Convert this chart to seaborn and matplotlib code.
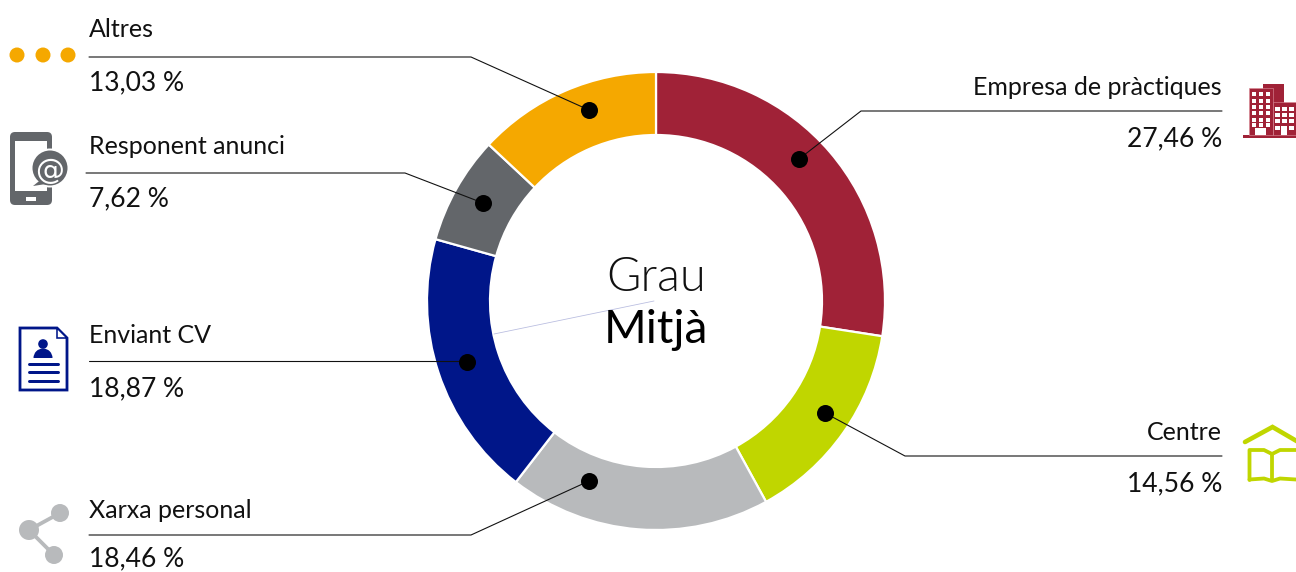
import matplotlib
matplotlib.use("Agg")
import matplotlib.pyplot as plt
from matplotlib.patches import Circle, FancyBboxPatch, Polygon, Rectangle, Wedge
import seaborn as sns
import pandas as pd

categories = ["Empresa de pràctiques", "Centre", "Xarxa personal", "Enviant CV", "Responent anunci", "Altres"]
values = [27.46, 14.56, 18.46, 18.87, 7.62, 13.03]
value_labels = ["27,46 %", "14,56 %", "18,46 %", "18,87 %", "7,62 %", "13,03 %"]
colors = ["#a02237", "#c0d600", "#b8babc", "#001689", "#63666a", "#f5a800"]

sns.set_theme(style="white")
plt.rcParams["font.family"] = ["Lato", "DejaVu Sans"]

W, H = 1296, 572
fig = plt.figure(figsize=(W / 100, H / 100), dpi=100, facecolor="white")
ax = fig.add_axes([0, 0, 1, 1])
px = 0.72  # one pixel in points

# Donut, in a pixel-sized data space
ax.pie(values, colors=colors, center=(656, 301), radius=229, startangle=-90, counterclock=True,
       wedgeprops=dict(width=63, edgecolor="white", linewidth=1.6))
ax.set_xlim(0, W)
ax.set_ylim(H, 0)
ax.set_aspect("auto")
ax.axis("off")

# Leader lines and anchors
elbows = {
    "Altres": ([89, 471], 57), "Responent anunci": ([86, 405], 173), "Enviant CV": ([89, 467], 361),
    "Xarxa personal": ([89, 471], 535), "Empresa de pràctiques": ([1222, 861], 111), "Centre": ([1222, 905], 456),
}
anchors = pd.DataFrame({
    "name": categories,
    "x": [799, 825, 589, 467, 483, 589],
    "y": [159, 413, 481, 362, 203, 110],
})
for row in anchors.itertuples():
    xs, yy = elbows[row.name]
    ax.plot([xs[0], xs[1], row.x], [yy, yy, row.y], color="#111111", lw=1.1 * px, zorder=3,
            solid_joinstyle="miter")
sns.scatterplot(data=anchors, x="x", y="y", color="black", s=150, linewidth=0, ax=ax, zorder=4, clip_on=False)
ax.set_xlim(0, W)
ax.set_ylim(H, 0)
ax.set_xlabel("")
ax.set_ylabel("")

# Faint hairline inside the hole
ax.plot([654, 494], [301, 334], color="#b9bde0", lw=0.8 * px, zorder=2)

# Labels
name_fs = 25 * px
value_fs = 26.5 * px
tc = "#111111"
label_pos = {
    "Altres": (89, 37, 90, "left"), "Responent anunci": (89, 154, 206, "left"),
    "Enviant CV": (89, 343, 396, "left"), "Xarxa personal": (89, 518, 566, "left"),
    "Empresa de pràctiques": (1222, 95, 146, "right"), "Centre": (1222, 440, 491, "right"),
}
for name, val in zip(categories, value_labels):
    x, y1, y2, ha = label_pos[name]
    ax.text(x, y1, name, fontsize=name_fs, ha=ha, va="baseline", color=tc)
    ax.text(x, y2, val, fontsize=value_fs, ha=ha, va="baseline", color=tc)

ax.text(656, 291, "Grau", fontsize=47 * px, ha="center", va="baseline", color="#111111", fontweight=300)
ax.text(656, 343, "Mitjà", fontsize=46 * px, ha="center", va="baseline", color="black")

# Icons ------------------------------------------------------------------
# Altres: three dots
for cx in (17, 43, 68):
    ax.add_patch(Circle((cx, 55), 7.5, color=colors[5], lw=0))

# Responent anunci: phone with @
g = colors[4]
ax.add_patch(FancyBboxPatch((14, 136), 34, 65, boxstyle="round,pad=4,rounding_size=5", fc=g, ec="none"))
ax.add_patch(Rectangle((15, 141), 32, 50, fc="white", ec="none"))
ax.add_patch(Rectangle((26, 197), 10, 3.5, fc="white", ec="none"))
ax.add_patch(Circle((50, 168), 19.5, fc="white", ec="none"))
ax.add_patch(Circle((50, 168), 17.5, fc=g, ec="none"))
ax.add_patch(Polygon([(33, 186), (43, 178), (46, 184)], fc=g, ec="none"))
ax.text(50, 168, "@", fontsize=29 * px, color="white", ha="center", va="center_baseline",
        family="DejaVu Sans")

# Enviant CV: document
n = colors[3]
ax.add_patch(Polygon([(20, 328), (57, 328), (67, 338), (67, 390), (20, 390)], fc="white", ec=n, lw=2.8 * px,
                     joinstyle="miter"))
ax.add_patch(Polygon([(57, 328), (57, 338), (67, 338)], fc="white", ec=n, lw=1.6 * px))
ax.add_patch(Circle((43, 344), 4.8, fc=n, ec="none"))
ax.add_patch(Wedge((43, 358), 9.5, 180, 360, fc=n, ec="none"))
for yy in (364, 372, 381):
    ax.plot([29, 58], [yy, yy], color=n, lw=3 * px, solid_capstyle="round")

# Xarxa personal: share nodes
s = colors[2]
ax.plot([60, 29, 54], [513, 530, 555], color=s, lw=3.8 * px, solid_joinstyle="round")
for cx, cy, r in ((60, 513, 9), (29, 530, 10), (54, 555, 9)):
    ax.add_patch(Circle((cx, cy), r, color=s, lw=0))

# Empresa de pràctiques: buildings
r_ = colors[0]
ax.add_patch(Rectangle((1243, 135), 53, 3, fc=r_, ec="none"))
ax.add_patch(Rectangle((1263, 84), 21, 30, fc=r_, ec="none"))
ax.add_patch(Rectangle((1249, 88), 24, 47, fc=r_, ec="#d98a96", lw=0.6 * px))
ax.add_patch(Rectangle((1273, 102), 23, 33, fc=r_, ec="#d98a96", lw=0.6 * px))
for cx in (1252, 1259, 1266):
    for cy in (92, 99, 105, 111, 118, 123):
        ax.add_patch(Rectangle((cx, cy), 4, 4, fc="white", ec="none"))
for cx in (1275, 1282, 1289):
    for cy in (107, 113, 119, 126):
        if not (cx == 1282 and cy == 126):
            ax.add_patch(Rectangle((cx, cy), 4.5, 4, fc="white", ec="none"))
ax.add_patch(Rectangle((1255, 128), 11, 7, fc="white", ec="none"))
ax.add_patch(Rectangle((1281, 126), 6, 9, fc="white", ec="none"))

# Centre: book under a roof
l = colors[1]
ax.plot([1245, 1272.5, 1300], [442, 427, 443], color=l, lw=4.6 * px, solid_joinstyle="miter")
ax.plot([1249.5, 1249.5, 1264, 1272, 1280, 1296], [480, 450, 450, 454, 450, 450], color=l, lw=3.8 * px)
ax.plot([1272, 1272], [454, 480], color=l, lw=3.8 * px)
ax.plot([1249.5, 1264, 1272, 1280, 1296], [479.5, 478.5, 481, 478.5, 479.5], color=l, lw=3.8 * px)

fig.savefig("out.png", dpi=100, facecolor="white")
